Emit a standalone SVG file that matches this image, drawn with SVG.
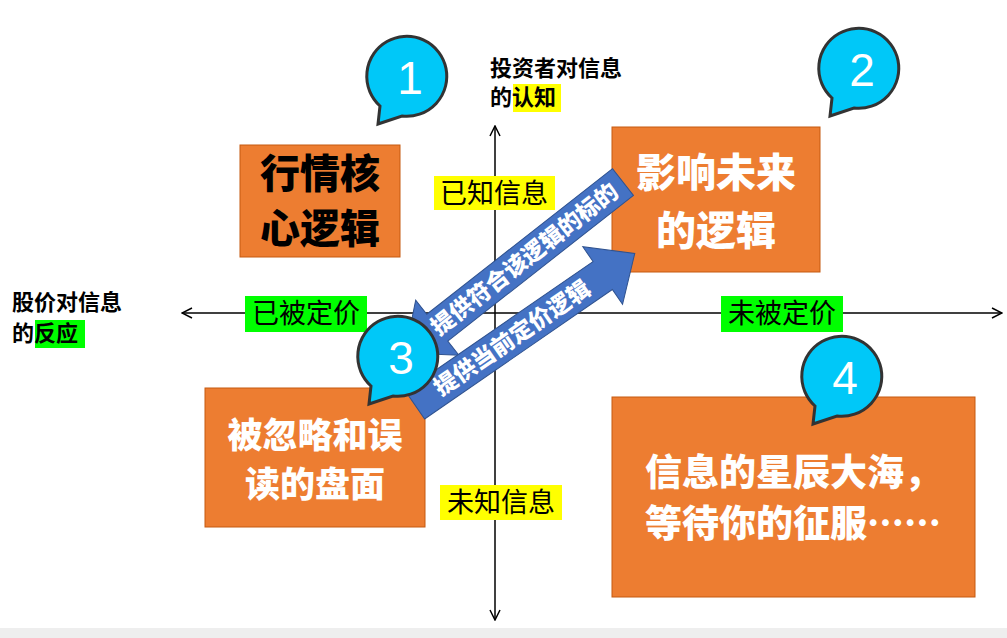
<svg xmlns="http://www.w3.org/2000/svg" width="1007" height="638" viewBox="0 0 1007 638">
<defs>
<style>
.box{fill:#ED7D31;stroke:#C55A11;stroke-width:1}
.bt{font-family:"Noto Sans CJK SC","Liberation Sans",sans-serif;font-weight:900;fill:#fff;text-anchor:middle}
.lb{font-family:"Noto Sans CJK SC","Liberation Sans",sans-serif;font-size:27px;fill:#000;text-anchor:middle}
.ax{font-family:"Noto Sans CJK SC","Liberation Sans",sans-serif;font-size:22px;font-weight:bold;fill:#000}
.bub{fill:#00C8F8;stroke:#333;stroke-width:3}
.num{font-family:"Liberation Sans",sans-serif;font-size:46px;fill:#fff;text-anchor:middle}
.arr{fill:#4472C4;stroke:#2F528F;stroke-width:1}
.at{font-family:"Noto Sans CJK SC","Liberation Sans",sans-serif;font-size:23px;font-weight:900;fill:#fff;text-anchor:middle}
</style>
<marker id="oa" viewBox="0 0 12 12" refX="11" refY="6" markerWidth="12" markerHeight="12" markerUnits="userSpaceOnUse" orient="auto-start-reverse"><path d="M1,1 L11,6 L1,11" fill="none" stroke="#000" stroke-width="1.5"/></marker>
<g id="bubshape"><path class="bub" d="M-30,28 A40,40 0 1 1 -8,38 L-32,46 Z"/></g>
</defs>
<rect x="0" y="628" width="1007" height="10" fill="#eeeeee"/>
<g id="connectors">
<line x1="182" y1="313" x2="1002" y2="313" stroke="#000" stroke-width="1.5" marker-start="url(#oa)" marker-end="url(#oa)"/>
<line x1="495" y1="620" x2="495" y2="126" stroke="#000" stroke-width="1.5" marker-start="url(#oa)" marker-end="url(#oa)"/>
</g>
<g id="box1"><rect class="box" x="240" y="145" width="160" height="112"/><text class="bt" x="320" y="188" font-size="40" style="fill:#000">行情核</text><text class="bt" x="320" y="243" font-size="40" style="fill:#000">心逻辑</text></g>
<g id="box2"><rect class="box" x="612" y="127" width="208" height="145"/><text class="bt" x="716" y="187" font-size="40">影响未来</text><text class="bt" x="716" y="245" font-size="40">的逻辑</text></g>
<g id="box3"><rect class="box" x="205" y="388" width="220" height="139"/><text class="bt" x="315" y="448" font-size="35">被忽略和误</text><text class="bt" x="315" y="497" font-size="35">读的盘面</text></g>
<g id="box4"><rect class="box" x="612" y="397" width="363" height="200"/><text class="bt" x="793" y="486" font-size="37">信息的星辰大海，</text><text class="bt" x="793" y="537" font-size="37">等待你的征服……</text></g>
<g id="label-known"><rect x="434" y="176" width="121" height="34" fill="#FFFF00"/><text class="lb" x="494" y="203">已知信息</text></g>
<g id="label-unknown"><rect x="440" y="485" width="122" height="35" fill="#FFFF00"/><text class="lb" x="501" y="512">未知信息</text></g>
<g id="label-priced"><rect x="245" y="296" width="122" height="36" fill="#00FF00"/><text class="lb" x="306" y="323">已被定价</text></g>
<g id="label-unpriced"><rect x="721" y="296" width="122" height="36" fill="#00FF00"/><text class="lb" x="782" y="323">未被定价</text></g>
<g id="axis-y-title"><rect x="513" y="84" width="48" height="28" fill="#FFFF00"/><text class="ax" x="490" y="76">投资者对信息</text><text class="ax" x="490" y="105">的认知</text></g>
<g id="axis-x-title"><rect x="35" y="320" width="50" height="28" fill="#00FF00"/><text class="ax" x="12" y="310">股价对信息</text><text class="ax" x="12" y="341">的反应</text></g>
<g id="arrow1" transform="translate(623,182) rotate(141.9)"><polygon class="arr" points="0,-17 236,-17 236,-35 277,0 236,35 236,17 0,17"/><text class="at" x="125" y="8" transform="rotate(180 125 0)">提供符合该逻辑的标的</text></g>
<g id="arrow2" transform="translate(415,405) rotate(-34.6)"><polygon class="arr" points="0,-17 228,-17 228,-35 267,0 228,35 228,17 0,17"/><text class="at" x="118" y="8">提供当前定价逻辑</text></g>
<g id="bubble1" transform="translate(410,78)"><use href="#bubshape"/><text class="num" x="0" y="16">1</text></g>
<g id="bubble2" transform="translate(862,70)"><use href="#bubshape"/><text class="num" x="0" y="16">2</text></g>
<g id="bubble3" transform="translate(401,358)"><use href="#bubshape"/><text class="num" x="0" y="16">3</text></g>
<g id="bubble4" transform="translate(845,378)"><use href="#bubshape"/><text class="num" x="0" y="16">4</text></g>
</svg>
